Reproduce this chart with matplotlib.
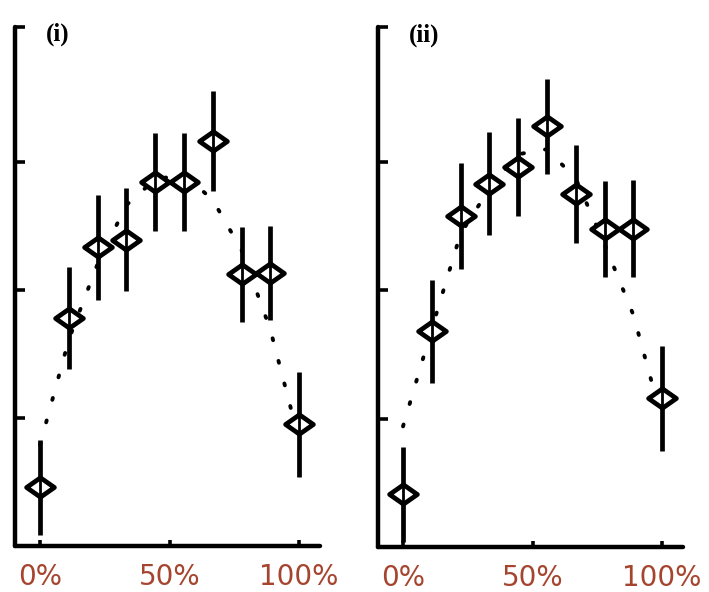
import numpy as np
import matplotlib.pyplot as plt
from matplotlib.path import Path

# fraction of the range (%), 10 points per panel
x_pct = [0, 11.1, 22.2, 33.3, 44.4, 55.6, 66.7, 77.8, 88.9, 100]

# panel (i)
mean_i = [0.46, 1.78, 2.33, 2.39, 2.84, 2.84, 3.16, 2.12, 2.13, 0.95]
err_i = [0.37, 0.40, 0.41, 0.40, 0.38, 0.38, 0.39, 0.37, 0.37, 0.41]
model_i = [0.79, 1.61, 2.20, 2.66, 2.86, 2.90, 2.70, 2.31, 1.69, 0.83]

# panel (ii)
mean_ii = [0.41, 1.68, 2.58, 2.83, 2.96, 3.28, 2.75, 2.48, 2.48, 1.16]
err_ii = [0.37, 0.40, 0.41, 0.40, 0.38, 0.37, 0.38, 0.375, 0.38, 0.41]
model_ii = [0.94, 1.70, 2.44, 2.79, 3.06, 3.10, 2.87, 2.36, 1.81, 0.99]

xtick_vals = [0, 50, 100]
xtick_labels = ["0%", "50%", "100%"]

# wide, flat diamond marker
diamond = Path([(-1, 0), (0, 0.7), (1, 0), (0, -0.7), (-1, 0)],
               [Path.MOVETO, Path.LINETO, Path.LINETO, Path.LINETO, Path.CLOSEPOLY])

fig = plt.figure(figsize=(7.09, 5.92), dpi=100)
ax1 = fig.add_axes([0.021, 0.0775, 0.43, 0.877])
ax2 = fig.add_axes([0.533, 0.076, 0.43, 0.878])


def panel(ax, mean, err, model, label):
    ax.plot(x_pct, model, ls=(0, (0.5, 5.5)), color="black", lw=2.8,
            dash_capstyle="round", zorder=1)
    ax.errorbar(x_pct, mean, yerr=err, fmt="none", ecolor="black",
                elinewidth=3.4, capsize=0, zorder=2)
    ax.plot(x_pct, mean, ls="none", marker=diamond, markersize=20,
            markerfacecolor="white", markeredgecolor="black",
            markeredgewidth=3.4, zorder=3)
    ax.vlines(x_pct, np.array(mean) - 0.1, np.array(mean) + 0.1,
              color="black", lw=2.0, zorder=4)
    ax.set_xlim(-9.7, 108)
    ax.set_ylim(0, 4.05)
    ax.set_yticks([1, 2, 3, 4.05])
    ax.set_yticklabels([])
    ax.set_xticks(xtick_vals)
    ax.set_xticklabels(xtick_labels, fontsize=20, color="#a5452f")
    for s in ["top", "right"]:
        ax.spines[s].set_visible(False)
    for s in ["left", "bottom"]:
        ax.spines[s].set_linewidth(3.2)
        ax.spines[s].set_capstyle("round")
    ax.tick_params(axis="y", direction="in", length=7, width=2.6)
    ax.tick_params(axis="x", direction="in", length=4, width=2.6, pad=12)
    ax.text(0.1, 0.985, label, transform=ax.transAxes, ha="left", va="center",
            fontsize=18, fontweight="bold", family="Liberation Serif")


panel(ax1, mean_i, err_i, model_i, "(i)")
panel(ax2, mean_ii, err_ii, model_ii, "(ii)")

fig.savefig("out.png", dpi=100)
